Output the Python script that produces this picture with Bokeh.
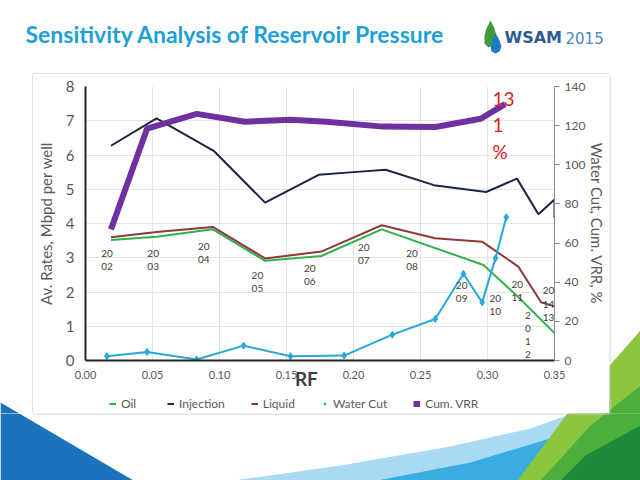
from bokeh.plotting import figure
from bokeh.layouts import column, row
from bokeh.models import (Range1d, LinearAxis, FixedTicker, NumeralTickFormatter, Legend,
                          LegendItem, ColumnDataSource)
from bokeh.core.properties import value
from bokeh.embed import file_html
from bokeh.resources import INLINE

# ---------------- data ----------------
oil_rf = [0.019, 0.053, 0.095, 0.134, 0.176, 0.221, 0.297, 0.323, 0.350]
oil = [3.52, 3.61, 3.83, 2.91, 3.05, 3.83, 2.79, 1.85, 0.80]

liq_rf = [0.019, 0.053, 0.095, 0.134, 0.176, 0.221, 0.261, 0.296, 0.323, 0.340, 0.350]
liquid = [3.60, 3.75, 3.90, 2.98, 3.18, 3.95, 3.57, 3.47, 2.74, 1.70, 1.58]

inj_rf = [0.019, 0.053, 0.096, 0.134, 0.174, 0.200, 0.224, 0.260, 0.299, 0.322, 0.338, 0.350, 0.350]
injection = [6.27, 7.07, 6.11, 4.61, 5.42, 5.50, 5.57, 5.12, 4.92, 5.31, 4.27, 4.70, 4.17]

wc_rf = [0.016, 0.046, 0.083, 0.118, 0.153, 0.193, 0.229, 0.261, 0.282, 0.296, 0.306, 0.314]
water_cut = [2.2, 4.4, 0.5, 7.6, 2.2, 2.5, 13.2, 21.2, 44.3, 29.7, 52.3, 73.2]

vrr_rf = [0.019, 0.046, 0.083, 0.119, 0.153, 0.180, 0.222, 0.261, 0.295, 0.313]
cum_vrr = [67, 118.5, 126, 122, 123, 122, 119.5, 119.3, 123.5, 131]

year_text = ["20\n02", "20\n03", "20\n04", "20\n05", "20\n06", "20\n07", "20\n08",
             "20\n09", "20\n10", "20\n11", "2\n0\n1\n2", "20\n14\n13"]
year_x = [0.0161, 0.0505, 0.0883, 0.1283, 0.1673, 0.2076, 0.2437, 0.2807, 0.3058, 0.3222, 0.3302, 0.3456]
year_y = [2.94, 2.94, 3.16, 2.30, 2.51, 3.12, 2.94, 2.02, 1.63, 2.05, 0.76, 1.66]

x_ticks = [0.0, 0.05, 0.10, 0.15, 0.20, 0.25, 0.30, 0.35]
left_ticks = [0, 1, 2, 3, 4, 5, 6, 7, 8]
right_ticks = [0, 20, 40, 60, 80, 100, 120, 140]

series_names = ["Oil", "Injection", "Liquid", "Water Cut", "Cum. VRR"]
series_colors = ["#2fb24c", "#1c2541", "#8e3a3a", "#26a8dc", "#7030a0"]

TITLE = "Sensitivity Analysis of Reservoir Pressure"
FONT = "Lato"
GRAY = "#595959"

# ---------------- page background pieces (page pixel coordinates) ----------------
DECOR = [
    ([(0, 402), (0, 480), (133, 480)], "#1b74bb"),
    ([(233, 480), (340, 465), (450, 446), (530, 428), (580, 410), (640, 390), (640, 480)], "#a9d9f3"),
    ([(377, 480), (470, 462), (553, 437), (620, 410), (640, 400), (640, 480)], "#3aace2"),
    ([(640, 330), (567, 413), (517, 480), (640, 480)], "#8cc63f"),
    ([(640, 385), (590, 425), (540, 480), (640, 480)], "#4caf3c"),
    ([(640, 425), (585, 455), (560, 480), (640, 480)], "#1e8b3a"),
]
BOX = (33, 74, 609, 413)   # chart box: left, top, right, bottom
BOX_COLOR = "#c8c8c8"
LEG_TOP = 392


def bg_fig(x0, y0, x1, y1, decor=True):
    f = figure(width=x1 - x0, height=y1 - y0, x_range=Range1d(x0, x1), y_range=Range1d(y1, y0),
               output_backend="svg", toolbar_location=None, min_border=0,
               x_axis_location=None, y_axis_location=None)
    f.grid.visible = False
    f.outline_line_color = None
    f.background_fill_color = "white"
    f.border_fill_color = "white"
    if decor:
        for pts, col in DECOR:
            f.patch([a for a, b in pts], [b for a, b in pts], fill_color=col, line_color=None)
    return f


bl, bt, br, bb = BOX
# header
head = bg_fig(0, 0, 640, bt)
head.segment(x0=[bl - 0.5], y0=[bt - 0.5], x1=[br + 0.5], y1=[bt - 0.5], line_color=BOX_COLOR, line_width=1)
head.text(x=[25], y=[33], text=[TITLE], text_font=value(FONT), text_font_style="bold",
          text_font_size="23px", text_color="#1e9fda", text_baseline="middle")
head.patch([490, 494, 496, 494, 488, 484, 484, 486], [20, 28, 36, 43, 47, 43, 35, 28],
           fill_color="#3b9b3b", line_color=None)
head.patch([495, 499, 501, 499, 495, 491, 490, 492], [32, 40, 46, 51, 53, 51, 46, 40],
           fill_color="#1f7bbf", line_color=None)
head.text(x=[504], y=[37], text=["WSAM"], text_font=value("DejaVu Sans"), text_font_style="bold",
          text_font_size="16px", text_color="#2b5d8f", text_baseline="middle")
head.text(x=[565], y=[37], text=["2015"], text_font=value("DejaVu Sans"),
          text_font_size="15px", text_color="#4b86b8", text_baseline="middle")

# side strips
left = bg_fig(0, bt, bl, bb)
left.segment(x0=[bl - 0.5], y0=[bt], x1=[bl - 0.5], y1=[bb], line_color=BOX_COLOR, line_width=1)
right = bg_fig(br, bt, 640, bb)
right.segment(x0=[br + 0.5], y0=[bt], x1=[br + 0.5], y1=[bb], line_color=BOX_COLOR, line_width=1)

# bottom
bottom = bg_fig(0, bb, 640, 480)
bottom.segment(x0=[bl - 0.5], y0=[bb + 0.5], x1=[br + 0.5], y1=[bb + 0.5], line_color=BOX_COLOR, line_width=1)

# legend strip (inside the box, under the chart); stand-in renderers sit outside its view
legf = bg_fig(bl, LEG_TOP, br, bb, decor=False)
OFF = [-1000]
leg_r = [legf.line(OFF, OFF, line_color=series_colors[0], line_width=2),
         legf.line(OFF, OFF, line_color=series_colors[1], line_width=2),
         legf.line(OFF, OFF, line_color=series_colors[2], line_width=2),
         legf.scatter(OFF, OFF, marker="diamond", size=8, fill_color=series_colors[3],
                      line_color=series_colors[3]),
         legf.line(OFF, OFF, line_color=series_colors[4], line_width=6)]
legend = Legend(items=[LegendItem(label=n, renderers=[r]) for n, r in zip(series_names, leg_r)],
                orientation="horizontal", location=(24, 2),
                glyph_width=7, glyph_height=7, label_standoff=5, spacing=26,
                padding=0, margin=0, border_line_color=None, background_fill_alpha=0,
                label_text_font=FONT, label_text_font_size="12px", label_text_color=GRAY,
                label_height=14)
legf.add_layout(legend, "center")

# ---------------- chart ----------------
CW, CH = br - bl, LEG_TOP - bt
FRAME = (77, 86, 555, 361)  # target frame in page pixels
p = figure(width=CW, height=CH, output_backend="svg", toolbar_location=None,
           x_range=Range1d(0, 0.35), y_range=Range1d(0, 8),
           min_border_left=FRAME[0] - bl, min_border_right=br - FRAME[2],
           min_border_top=FRAME[1] - bt, min_border_bottom=LEG_TOP - FRAME[3])
p.extra_y_ranges = {"right": Range1d(0, 140)}
p.outline_line_color = None
p.background_fill_color = "white"
p.border_fill_color = "white"

p.xaxis.ticker = FixedTicker(ticks=x_ticks)
p.xaxis.formatter = NumeralTickFormatter(format="0.00")
p.yaxis.ticker = FixedTicker(ticks=left_ticks)
p.yaxis.axis_label = "Av. Rates, Mbpd per well"
p.xaxis.axis_label = "RF" + "\u00a0" * 6
for ax in (p.xaxis[0], p.yaxis[0]):
    ax.axis_line_color = "#262626"
    ax.axis_line_width = 2
    ax.major_tick_line_color = None
    ax.minor_tick_line_color = None
    ax.major_label_text_font = FONT
    ax.major_label_text_color = GRAY
    ax.axis_label_text_font = FONT
    ax.axis_label_text_color = GRAY
    ax.axis_label_text_font_style = "normal"
p.xaxis.major_label_text_font_size = "11px"
p.xaxis.major_label_standoff = 4
p.xaxis.axis_label_text_font_size = "19px"
p.xaxis.axis_label_text_font_style = "bold"
p.xaxis.axis_label_text_color = "#3f3f3f"
p.xaxis.axis_label_standoff = -15
p.yaxis.major_label_text_font_size = "15px"
p.yaxis.major_label_standoff = 5
p.yaxis.axis_label_text_font_size = "15px"
p.yaxis.axis_label_standoff = 8

ra = LinearAxis(y_range_name="right", ticker=FixedTicker(ticks=right_ticks),
                axis_label="Water Cut, Cum. VRR, %")
ra.axis_line_color = "#8c8c8c"
ra.major_tick_line_color = "#8c8c8c"
ra.major_tick_in = 0
ra.major_tick_out = 5
ra.minor_tick_line_color = None
ra.major_label_text_font = FONT
ra.major_label_text_font_size = "12px"
ra.major_label_text_color = GRAY
ra.major_label_standoff = 5
ra.axis_label_text_font = FONT
ra.axis_label_text_font_size = "15px"
ra.axis_label_text_color = GRAY
ra.axis_label_text_font_style = "normal"
ra.axis_label_standoff = 0
p.add_layout(ra, "right")

p.xgrid.grid_line_color = "#e4e4e4"
p.ygrid.grid_line_color = "#e4e4e4"

p.line(oil_rf, oil, line_color=series_colors[0], line_width=2)
p.line(liq_rf, liquid, line_color=series_colors[2], line_width=2)
p.line(inj_rf, injection, line_color=series_colors[1], line_width=2)
p.line(wc_rf, water_cut, y_range_name="right", line_color=series_colors[3], line_width=2)
p.scatter(wc_rf, water_cut, y_range_name="right", marker="diamond", size=7,
          fill_color=series_colors[3], line_color=series_colors[3])
p.line(vrr_rf, cum_vrr, y_range_name="right", line_color=series_colors[4], line_width=6,
       line_join="round")

ys = ColumnDataSource(dict(x=year_x, y=year_y, t=year_text))
p.text(x="x", y="y", text="t", source=ys, text_font=value(FONT), text_font_size="10px",
       text_color="#404040", text_align="center", text_baseline="middle", text_line_height=1.1)

p.text(x=[0.3037], y=[120.5], text=["13\n1\n%"], y_range_name="right", text_font=value(FONT),
       text_font_size="19px", text_color="#e0202a", text_align="left", text_baseline="middle",
       text_line_height=1.15)

layout = column(head, row(left, column(p, legf), right), bottom)
open("out.html", "w").write(file_html(layout, INLINE))
